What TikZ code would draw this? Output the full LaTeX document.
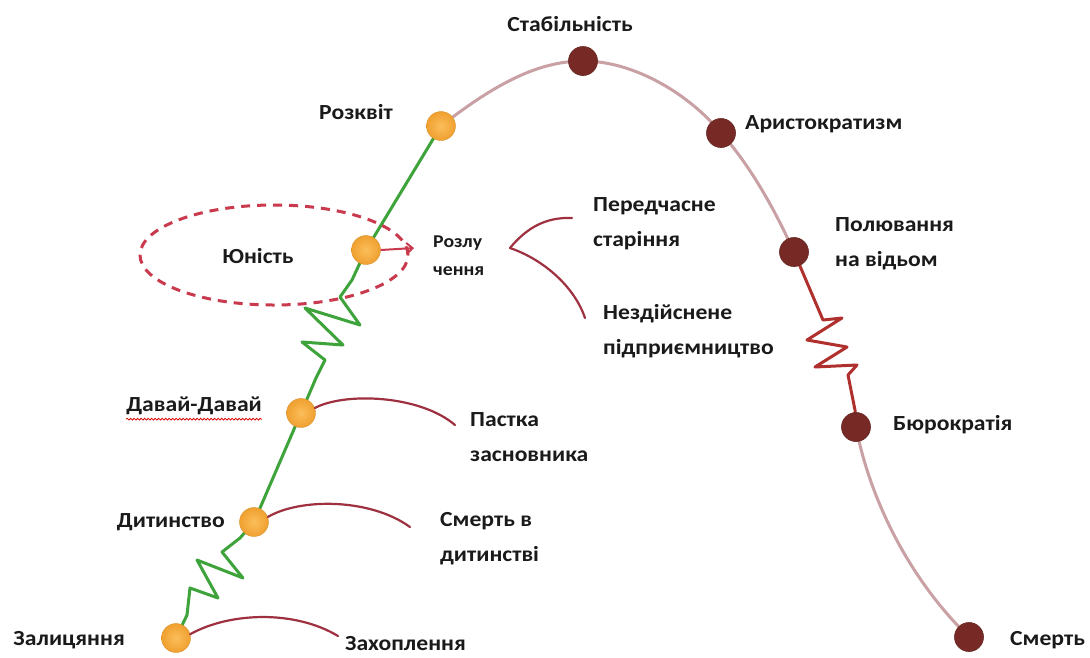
\documentclass[tikz,border=0pt]{standalone}
\usepackage{fontspec}
\setmainfont{Carlito}[FakeStretch=1.1]
\usetikzlibrary{arrows.meta,decorations.pathmorphing}
\definecolor{grn}{HTML}{3DA33A}
\definecolor{pinkline}{HTML}{C9A0A3}
\definecolor{zigred}{HTML}{B0302E}
\definecolor{arcred}{HTML}{9E3040}
\definecolor{ellred}{HTML}{C93A4E}
\definecolor{orngin}{HTML}{FBBE5A}
\definecolor{orngout}{HTML}{F0A030}
\definecolor{dred}{HTML}{772A25}
\definecolor{txt}{HTML}{1A1A1A}
\pgfdeclarelayer{bg}
\pgfsetlayers{bg,main}
\tikzset{
  odot/.style={circle, minimum size=29pt, inner sep=0pt, inner color=orngin, outer color=orngout, draw=orngout!90!black, line width=0.4pt},
  ddot/.style={circle, minimum size=29pt, inner sep=0pt, fill=dred, draw=dred!85!black, line width=0.6pt},
  lbl/.style={font=\fontsize{21.5}{35}\selectfont\bfseries, text=txt, inner sep=0pt, align=left},
  slbl/.style={font=\fontsize{18}{28}\selectfont\bfseries, text=txt, inner sep=0pt, align=left},
  gline/.style={draw=grn, line width=3pt, line join=round, line cap=round},
  pline/.style={draw=pinkline, line width=3pt},
  zline/.style={draw=zigred, line width=3pt, line join=round, line cap=round},
  aline/.style={draw=arcred, line width=2.2pt, line cap=round},
}
\begin{document}
\begin{tikzpicture}[x=1pt,y=-1pt]
\useasboundingbox (0,0) rectangle (1090,657);

% dots
\node[odot] (zal) at (176,638) {};
\node[odot] (dyt) at (254,522) {};
\node[odot] (dav) at (301,413) {};
\node[odot] (yun) at (366,250) {};
\node[odot] (rozk) at (441,126) {};
\node[ddot] (stab) at (583,61) {};
\node[ddot] (arys) at (721,133) {};
\node[ddot] (pol) at (794,252) {};
\node[ddot] (byur) at (856,427) {};
\node[ddot] (smert) at (969,637) {};

% labels
\node[lbl, anchor=east] (tzal) at (125,640) {Залицяння};
\node[lbl, anchor=east] (tdyt) at (225,522) {Дитинство};
\node[lbl, anchor=east] (tdav) at (262,406) {Давай-Давай};
\node[lbl] (tyun) at (258,256) {Юність};
\node[lbl, anchor=east] (trozk) at (393,112) {Розквіт};
\node[lbl] (tstab) at (570,24) {Стабільність};
\node[lbl, anchor=west] (tarys) at (745,124) {Аристократизм};
\node[lbl, anchor=west] (tpol) at (835,244) {Полювання\\на відьом};
\node[lbl, anchor=west] (tbyur) at (893,425) {Бюрократія};
\node[lbl, anchor=west] (tsmert) at (1010,640) {Смерть};
\node[slbl, anchor=west] (trozl) at (433,256) {Розлу\\чення};
\node[lbl, anchor=west] (tpered) at (593,224) {Передчасне\\старіння};
\node[lbl, anchor=west] (tnezd) at (603,331) {Нездійснене\\підприємництво};
\node[lbl, anchor=west] (tpast) at (470,437) {Пастка\\засновника};
\node[lbl, anchor=west] (tsmd) at (440,539) {Смерть в\\дитинстві};
\node[lbl, anchor=west] (tzah) at (345,644) {Захоплення};

% free ends
\coordinate (zahE) at (338,636);
\coordinate (smdE) at (410,527);
\coordinate (pastE) at (455,425);
\coordinate (rozlV) at (510,248);
\coordinate (peredE) at (572,218);
\coordinate (nezdE) at (585,318);
\coordinate (arrE) at (414,248);

\begin{pgfonlayer}{bg}
\fill[white] (0,0) rectangle (1090,657);
% green growth line
\draw[gline] (zal.center) -- (187,615) -- (190,588) -- (218,598) -- (197,560) -- (243,578) -- (222,552) -- (240,538) -- (dyt.center);
\draw[gline] (dyt.center) -- (dav.center);
\draw[gline] (dav.center) -- (316,378) -- (325,360) -- (302,342) -- (343,345) -- (305,308) -- (360,325) -- (340,297) -- (352,280) -- (yun.center);
\draw[gline] (yun.center) -- (rozk.center);
% ageing line
\draw[pline] (rozk.center) .. controls (490,88) and (535,61) .. (stab.center);
\draw[pline] (stab.center) .. controls (635,61) and (690,95) .. (arys.center);
\draw[pline] (arys.center) .. controls (750,165) and (775,210) .. (pol.center);
\draw[zline] (pol.center) -- (823,320) -- (842,318) -- (807,340) -- (847,347) -- (815,367) -- (857,365) -- (848,375) -- (855,410) -- (byur.center);
\draw[pline] (byur.center) .. controls (870,500) and (910,580) .. (smert.center);
% dashed ellipse
\draw[draw=ellred, line width=3pt, dash pattern=on 9pt off 7pt] (274,255) ellipse [x radius=134pt, y radius=50pt];
\end{pgfonlayer}
\draw[draw=ellred, line width=2pt, -{Straight Barb[length=6pt,width=11pt]}] (yun.east) -- (arrE);

% trap arcs
\draw[aline] (zal.15) .. controls (230,612) and (295,610) .. (zahE);
\draw[aline] (dyt.20) .. controls (300,498) and (370,498) .. (smdE);
\draw[aline] (dav.20) .. controls (345,392) and (420,395) .. (pastE);
\draw[aline] (rozlV) .. controls (528,226) and (548,217) .. (peredE);
\draw[aline] (rozlV) .. controls (545,260) and (575,288) .. (nezdE);

% spell-check underline
\draw[draw=red!85!black, line width=0.8pt, decorate, decoration={snake, amplitude=0.9pt, segment length=3.5pt}] ([yshift=-4pt]tdav.south west) -- ([yshift=-4pt]tdav.south east);
\end{tikzpicture}
\end{document}
